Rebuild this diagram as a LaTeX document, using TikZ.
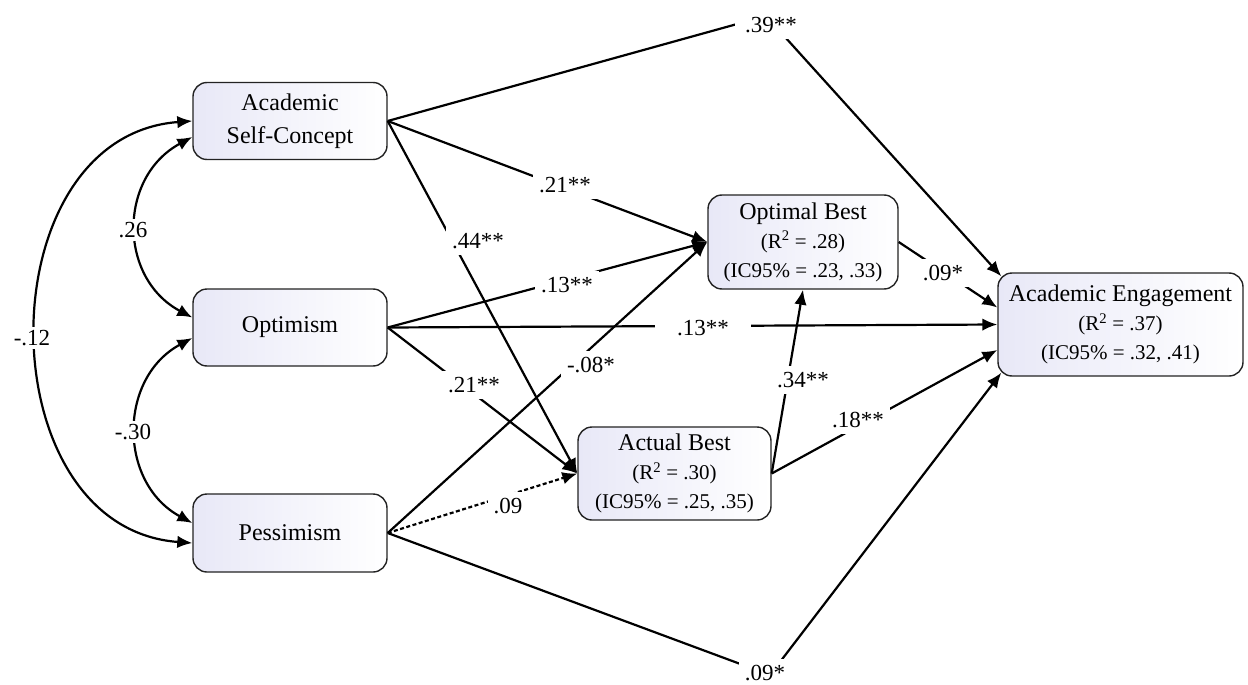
\documentclass[tikz,border=0pt]{standalone}
\usepackage{fontspec}
\setmainfont{Liberation Serif}
\usetikzlibrary{arrows.meta}
\definecolor{boxtint}{RGB}{232,232,247}
\definecolor{boxline}{RGB}{35,35,35}
\begin{document}
\begin{tikzpicture}[x=1pt,y=-1pt,
  var/.style={draw=boxline, line width=1.4pt, rounded corners=14pt,
    left color=boxtint, right color=white, align=center, inner sep=0pt,
    font=\fontsize{21}{29}\selectfont},
  ttl/.style={font=\fontsize{24}{33}\selectfont},
  conn/.style={line width=2.2pt, -{Latex[length=15pt,width=12.5pt]}},
  dconn/.style={conn, dash pattern=on 4pt off 2.5pt},
  cov/.style={line width=2.2pt, {Latex[length=15pt,width=12.5pt]}-{Latex[length=15pt,width=12.5pt]}},
  lbl/.style={fill=white, inner sep=6pt, font=\fontsize{23}{26}\selectfont}
]
\path[use as bounding box, fill=white] (0,0) rectangle (1248,685);

% variables
\node[var, ttl, minimum width=194pt, minimum height=77pt] (ASC) at (290,121) {Academic\\Self-Concept};
\node[var, ttl, minimum width=194pt, minimum height=77pt] (OPT) at (290,327.5) {Optimism};
\node[var, ttl, minimum width=194pt, minimum height=78pt] (PES) at (290,533) {Pessimism};
\node[var, minimum width=190pt, minimum height=94pt] (OB) at (803,242)
  {{\fontsize{24}{29}\selectfont Optimal Best}\\(R\textsuperscript{2} = .28)\\(IC95\% = .23, .33)};
\node[var, minimum width=193pt, minimum height=93pt] (AB) at (674.5,473.5)
  {{\fontsize{24}{29}\selectfont Actual Best}\\(R\textsuperscript{2} = .30)\\(IC95\% = .25, .35)};
\node[var, minimum width=245pt, minimum height=103pt] (AE) at (1120.5,324.5)
  {{\fontsize{24}{29}\selectfont Academic Engagement}\\(R\textsuperscript{2} = .37)\\(IC95\% = .32, .41)};

% bend points of the long paths
\coordinate (b39) at (766,16);
\coordinate (b09) at (770,675);

% covariances
\draw[cov] (ASC.west) .. controls (-15,136) and (-15,528) .. ([yshift=-10pt]PES.west);
\draw[cov] ([yshift=-16pt]ASC.west) .. controls (118,177) and (118,278) .. ([yshift=10pt]OPT.west);
\draw[cov] ([yshift=-10.5pt]OPT.west) .. controls (118,378) and (118,483) .. ([yshift=10pt]PES.west);

% paths
\draw[conn] (ASC.east) -- (b39) -- ([xshift=4pt,yshift=-4pt]AE.north west);
\draw[conn] (ASC.east) -- (OB.west);
\draw[conn] (ASC.east) -- (AB.west);
\draw[conn] (OPT.east) -- (OB.west);
\draw[conn] (OPT.east) -- (AE.west);
\draw[conn] (OPT.east) -- (AB.west);
\draw[conn] (PES.east) -- (OB.west);
\draw[dconn] (PES.east) -- (AB.west);
\draw[conn] (PES.east) -- (b09) -- ([xshift=4pt,yshift=4pt]AE.south west);
\draw[conn] (AB.east) -- (OB.south);
\draw[conn] (AB.east) -- ([yshift=-25.5pt]AE.west);
\draw[conn] (OB.east) -- ([yshift=17pt]AE.west);

% labels
\node[lbl, inner xsep=10pt] (l39) at (771,25) {.39**};
\node[lbl] (l09b) at (765,673) {.09*};
\node[lbl] (l21a) at (565,185) {.21**};
\node[lbl] (l44) at (478,241) {.44**};
\node[lbl] (l13a) at (567,285) {.13**};
\node[lbl, inner xsep=22pt] (l13b) at (703,328) {.13**};
\node[lbl] (l21b) at (474,385) {.21**};
\node[lbl] (l08) at (591,365) {-.08*};
\node[lbl] (l09d) at (508,506) {.09};
\node[lbl] (l34) at (803,380) {.34**};
\node[lbl] (l18) at (858,420) {.18**};
\node[lbl] (l09c) at (943,273) {.09*};
\node[lbl, inner sep=3pt] (l26) at (133,230) {.26};
\node[lbl, inner sep=3pt] (l30) at (133,432) {-.30};
\node[lbl, inner sep=3pt] (l12) at (32,338) {-.12};
\end{tikzpicture}
\end{document}
